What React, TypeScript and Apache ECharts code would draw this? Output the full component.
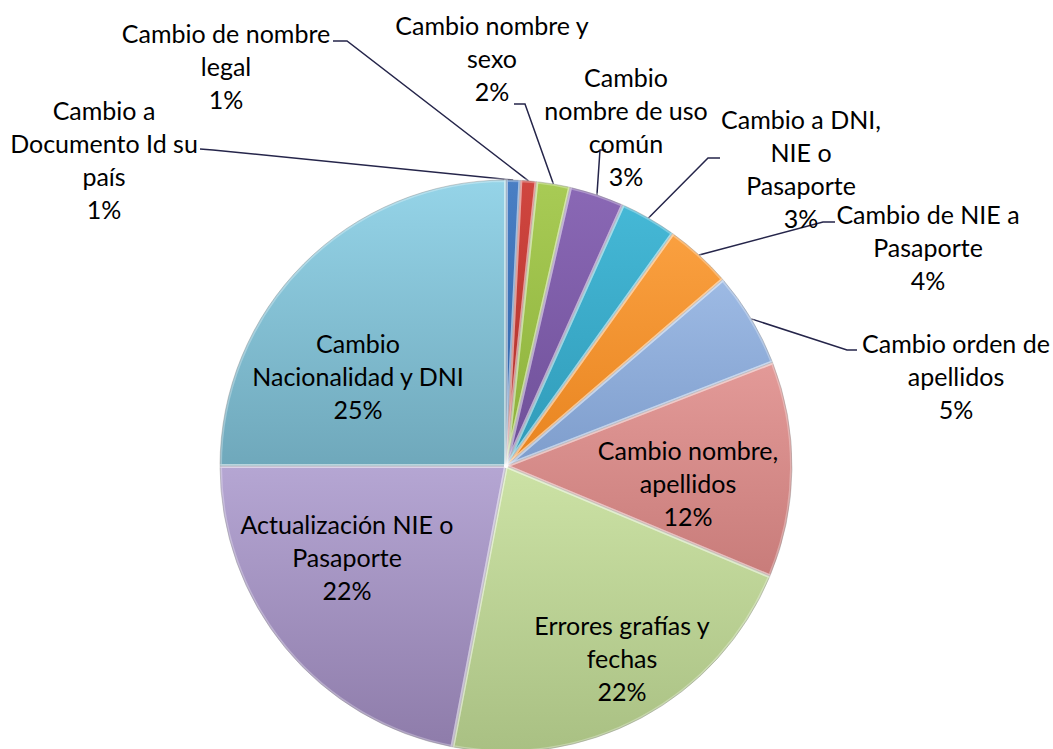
import React, { useEffect, useRef } from "react";
import * as echarts from "echarts";

// ---- data ----
const categories = [
  "Cambio a Documento Id su país",
  "Cambio de nombre legal",
  "Cambio nombre y sexo",
  "Cambio nombre de uso común",
  "Cambio a DNI, NIE o Pasaporte",
  "Cambio de NIE a Pasaporte",
  "Cambio orden de apellidos",
  "Cambio nombre, apellidos",
  "Errores grafías y fechas",
  "Actualización NIE o Pasaporte",
  "Cambio Nacionalidad y DNI",
];
const values = [0.8, 0.9, 1.9, 3.1, 3.2, 3.8, 5.4, 12.2, 21.7, 22.0, 25.0];
const wrappedLabels = [
  "Cambio a\nDocumento Id su\npaís",
  "Cambio de nombre\nlegal",
  "Cambio nombre y\nsexo",
  "Cambio\nnombre de uso\ncomún",
  "Cambio a DNI,\nNIE o\nPasaporte",
  "Cambio de NIE a\nPasaporte",
  "Cambio orden de\napellidos",
  "Cambio nombre,\napellidos",
  "Errores grafías y\nfechas",
  "Actualización NIE o\nPasaporte",
  "Cambio\nNacionalidad y DNI",
];
const insideFlags = [false, false, false, false, false, false, false, true, true, true, true];

// ---- styling / layout ----
const sliceColors: [string, string][] = [
  ["#4A7FC4", "#2D62A6"],
  ["#D0463F", "#AE302B"],
  ["#A8CB55", "#8CB03A"],
  ["#8A68B5", "#6E4F98"],
  ["#45B8D6", "#2F9AB8"],
  ["#FAA040", "#E8841F"],
  ["#9DBAE4", "#7E9DCC"],
  ["#E39A98", "#C87C7A"],
  ["#CCE2A5", "#A9C083"],
  ["#B5A6D3", "#8E7CAA"],
  ["#95D4E8", "#6FA8BB"],
];
const labelCenters: [number, number][] = [
  [104, 159],
  [226, 66],
  [492, 58],
  [626, 126],
  [801, 168],
  [928, 247],
  [956, 376],
  [688, 483],
  [622, 658],
  [347, 557],
  [358, 376],
];
// [bend, end-at-label] for leader lines
const leaderAttach: ([number, number][] | null)[] = [
  [[213, 150], [200, 149]],
  [[347, 41], [333, 41]],
  [[525, 104], [514, 104]],
  [[600, 150], [606, 150]],
  [[708, 158], [720, 158]],
  [[823, 222], [835, 222]],
  [[847, 350], [857, 350]],
  null,
  null,
  null,
  null,
];

export default function App() {
  const ref = useRef<HTMLDivElement>(null);
  useEffect(() => {
    if (!ref.current) return;
    const chart = echarts.init(ref.current, undefined, { renderer: "svg" });
    const data = categories.map((name, i) => ({
      name,
      value: values[i],
      itemStyle: {
        color: new echarts.graphic.LinearGradient(0, 0, 0, 1, [
          { offset: 0, color: sliceColors[i][0] },
          { offset: 1, color: sliceColors[i][1] },
        ]),
      },
      label: { position: insideFlags[i] ? "inside" : "outside" },
      labelLine: { show: !insideFlags[i] },
    }));
    chart.setOption({
      animation: false,
      backgroundColor: "#ffffff",
      series: [
        {
          type: "pie",
          center: [506, 466],
          radius: 286,
          startAngle: 90,
          clockwise: true,
          avoidLabelOverlap: false,
          data,
          itemStyle: { borderColor: "rgba(60,60,60,0.45)", borderWidth: 0.8 },
          label: {
            show: true,
            fontFamily: "Lato",
            fontSize: 25,
            lineHeight: 33,
            color: "#000000",
            align: "center",
            formatter: (p: any) => `${wrappedLabels[p.dataIndex]}\n${Math.round(p.percent)}%`,
          },
          labelLine: {
            show: true,
            smooth: false,
            lineStyle: { color: "#25254A", width: 1.5 },
          },
          labelLayout: (p: any) => {
            const i = p.dataIndex;
            const c = labelCenters[i];
            const res: any = { x: c[0], y: c[1], align: "center", verticalAlign: "middle" };
            const att = leaderAttach[i];
            if (att && p.labelLinePoints && p.labelLinePoints[0]) {
              res.labelLinePoints = [p.labelLinePoints[0], att[0], att[1]];
            }
            return res;
          },
          emphasis: { disabled: true },
        },
        {
          type: "pie",
          center: [506, 466],
          radius: 286,
          startAngle: 90,
          clockwise: true,
          silent: true,
          data: categories.map((name, i) => ({ name, value: values[i] })),
          itemStyle: {
            color: "rgba(0,0,0,0)",
            borderColor: "rgba(255,255,255,0.3)",
            borderWidth: 4,
          },
          label: { show: false },
          labelLine: { show: false },
          emphasis: { disabled: true },
        },
      ],
    });
    return () => chart.dispose();
  }, []);
  return (
    <div
      ref={ref}
      style={{ position: "fixed", left: 0, top: 0, width: 1053, height: 749 }}
    />
  );
}
